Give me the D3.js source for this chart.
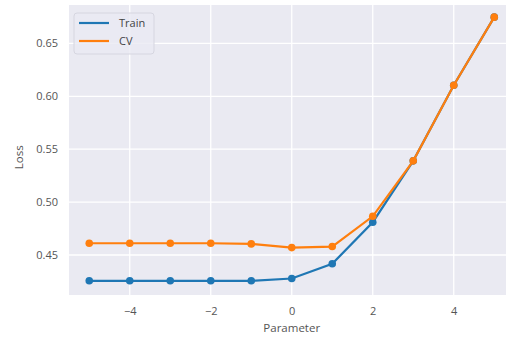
<!DOCTYPE html>
<html>
<head>
<meta charset="utf-8">
<script src="https://cdn.jsdelivr.net/npm/d3@7"></script>
<style>
  body { margin: 0; background: #fff; }
  svg { display: block; overflow: hidden; }
  .tick text { font-family: "Open Sans", "DejaVu Sans", sans-serif; fill: #555; }
</style>
</head>
<body>
<div id="chart"></div>
<script>
// data
var params = [-5, -4, -3, -2, -1, 0, 1, 2, 3, 4, 5];
var trainLoss = [0.4256, 0.4256, 0.4256, 0.4256, 0.4256, 0.4278, 0.4418, 0.481, 0.539, 0.6104, 0.6748];
var cvLoss = [0.4611, 0.4611, 0.4611, 0.4611, 0.4605, 0.457, 0.458, 0.4866, 0.539, 0.6104, 0.6748];
var xTicks = [-4, -2, 0, 2, 4];
var yTicks = [0.45, 0.50, 0.55, 0.60, 0.65];
var seriesNames = ["Train", "CV"];
var colors = ["#1f77b4", "#ff7f0e"];

var W = 506, H = 338;
var plotLeft = 69, plotTop = 5, plotBottom = 295;

var svg = d3.select("#chart").append("svg")
    .attr("width", W)
    .attr("height", H);

var x = d3.scaleLinear().domain([-5.5, 5.5]).range([plotLeft, plotLeft + 11 * 40.5]);
var y = d3.scaleLinear().domain([0.4122, 0.6863]).range([plotBottom, plotTop]);

// background
svg.append("rect")
    .attr("x", plotLeft).attr("y", plotTop)
    .attr("width", x.range()[1] - plotLeft)
    .attr("height", plotBottom - plotTop)
    .attr("fill", "#eaeaf2");

// grid
svg.append("g").selectAll("line").data(xTicks).enter().append("line")
    .attr("x1", d => x(d)).attr("x2", d => x(d))
    .attr("y1", plotTop).attr("y2", plotBottom)
    .attr("stroke", "#fff").attr("stroke-width", 1.3);
svg.append("g").selectAll("line").data(yTicks).enter().append("line")
    .attr("x1", plotLeft).attr("x2", x.range()[1])
    .attr("y1", d => y(d)).attr("y2", d => y(d))
    .attr("stroke", "#fff").attr("stroke-width", 1.3);

// axes (no lines, just labels)
var xAxis = svg.append("g")
    .attr("transform", "translate(0," + plotBottom + ")")
    .call(d3.axisBottom(x).tickValues(xTicks).tickSize(0).tickPadding(12)
      .tickFormat(d => d < 0 ? "\u2212" + Math.abs(d) : d));
xAxis.select(".domain").remove();
xAxis.selectAll("text").style("font-size", "11px");

var yAxis = svg.append("g")
    .attr("transform", "translate(" + plotLeft + ",0)")
    .call(d3.axisLeft(y).tickValues(yTicks).tickSize(0).tickPadding(11)
      .tickFormat(d3.format(".2f")));
yAxis.select(".domain").remove();
yAxis.selectAll("text").style("font-size", "11px");

// axis titles
svg.append("text")
    .attr("x", x(0)).attr("y", 332)
    .attr("text-anchor", "middle")
    .style("font-family", "Open Sans, DejaVu Sans, sans-serif")
    .style("font-size", "11.5px").style("fill", "#555")
    .text("Parameter");
svg.append("text")
    .attr("transform", "translate(23," + (y(0.55) + 8) + ") rotate(-90)")
    .attr("text-anchor", "middle")
    .style("font-family", "Open Sans, DejaVu Sans, sans-serif")
    .style("font-size", "11.5px").style("fill", "#555")
    .text("Loss");

// lines + markers
var line = d3.line()
    .x((d, i) => x(params[i]))
    .y(d => y(d));

var series = [trainLoss, cvLoss];
series.forEach(function(vals, k) {
  svg.append("path")
    .datum(vals)
    .attr("fill", "none")
    .attr("stroke", colors[k])
    .attr("stroke-width", 2.2)
    .attr("d", line);
  svg.append("g").selectAll("circle").data(vals).enter().append("circle")
    .attr("cx", (d, i) => x(params[i]))
    .attr("cy", d => y(d))
    .attr("r", 3.8)
    .attr("fill", colors[k]);
});

// legend
var lg = svg.append("g").attr("transform", "translate(74,13)");
lg.append("rect")
    .attr("width", 80).attr("height", 41).attr("rx", 3)
    .attr("fill", "#eaeaf2").attr("fill-opacity", 0.8)
    .attr("stroke", "#d6d6e0");
seriesNames.forEach(function(name, k) {
  var yy = 10 + k * 18;
  lg.append("line")
    .attr("x1", 5).attr("x2", 35)
    .attr("y1", yy).attr("y2", yy)
    .attr("stroke", colors[k]).attr("stroke-width", 2.2);
  lg.append("text")
    .attr("x", 45).attr("y", yy + 4)
    .style("font-family", "Open Sans, DejaVu Sans, sans-serif")
    .style("font-size", "11px").style("fill", "#444")
    .text(name);
});
</script>
</body>
</html>
